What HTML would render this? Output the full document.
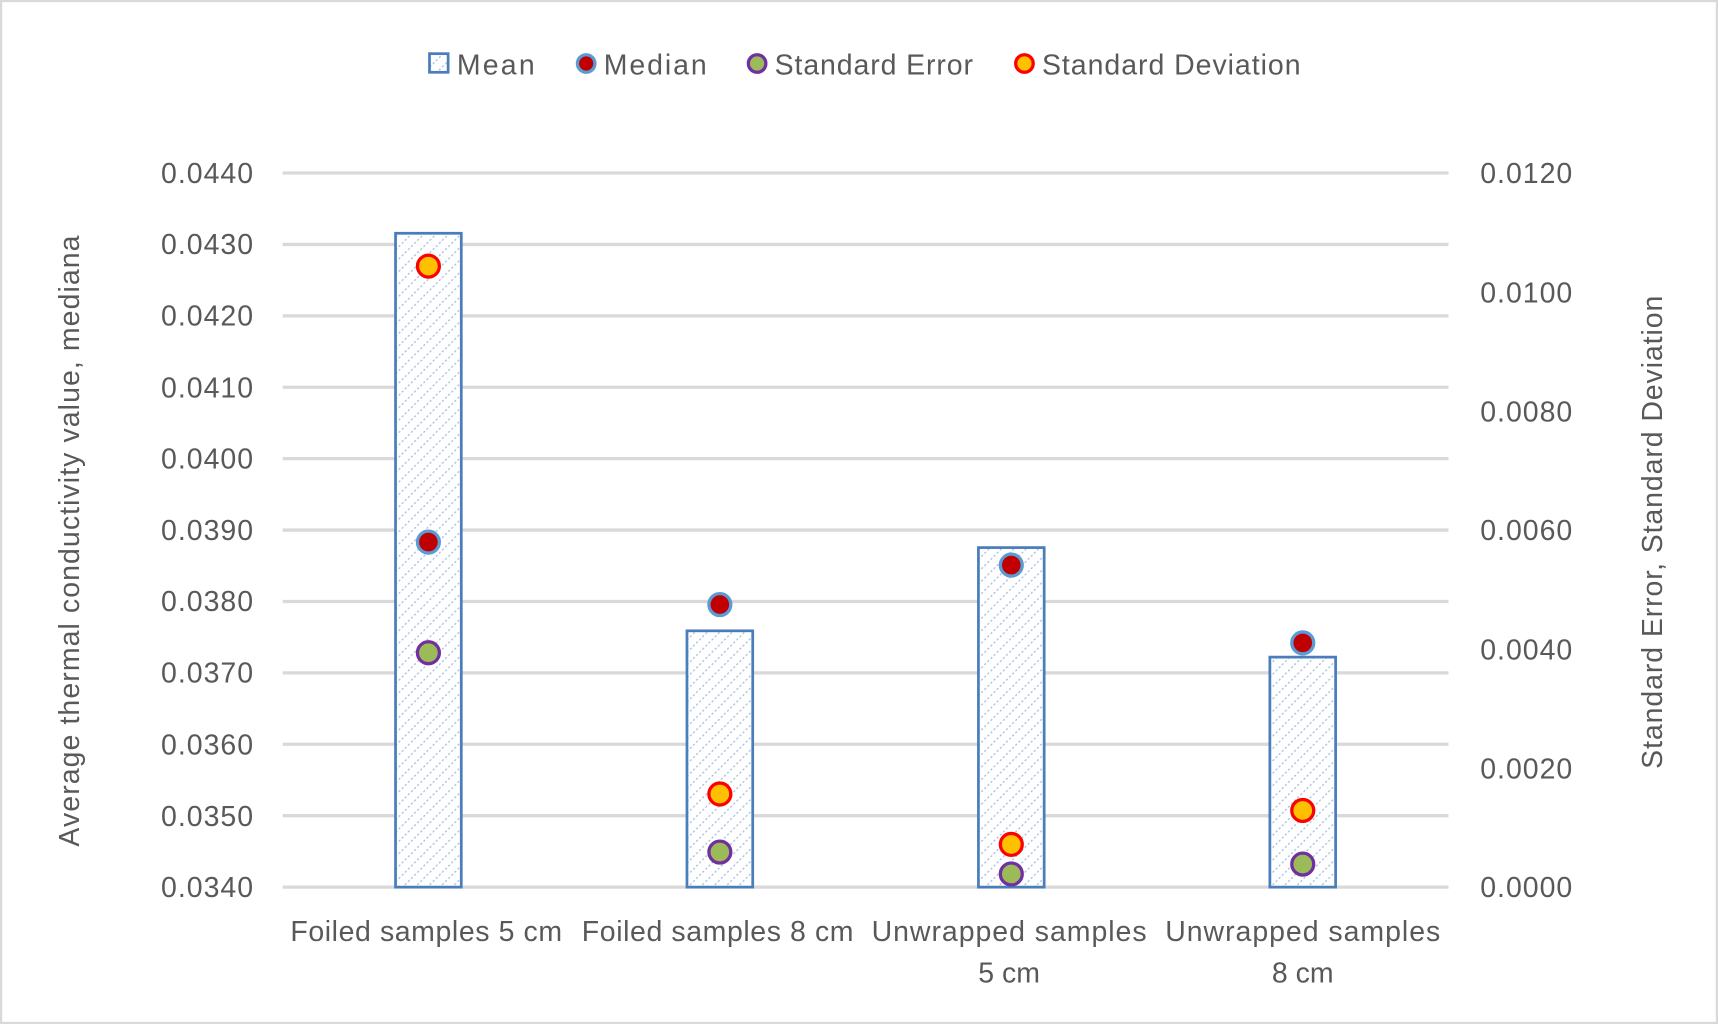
<!DOCTYPE html>
<html><head><style>html,body{margin:0;padding:0;background:#fff}svg{display:block}</style></head><body>
<svg width="1718" height="1024" viewBox="0 0 1568 935" preserveAspectRatio="none" font-family="'Liberation Sans',sans-serif" fill="#595959">
<defs><pattern id="h" width="8" height="8" patternUnits="userSpaceOnUse" patternTransform="rotate(45)"><rect width="8" height="8" fill="#fff"/><line x1="0" y1="0" x2="0" y2="8" stroke="#a9c3e6" stroke-width="2.5" stroke-dasharray="2 2"/></pattern></defs>
<rect x="1" y="1" width="1566" height="933" fill="#fff" stroke="#d9d9d9" stroke-width="2"/>
<g stroke="#d9d9d9" stroke-width="3">
<line x1="258" x2="1322" y1="158" y2="158"/><line x1="258" x2="1322" y1="223.2" y2="223.2"/><line x1="258" x2="1322" y1="288.4" y2="288.4"/><line x1="258" x2="1322" y1="353.6" y2="353.6"/><line x1="258" x2="1322" y1="418.8" y2="418.8"/><line x1="258" x2="1322" y1="484" y2="484"/><line x1="258" x2="1322" y1="549.2" y2="549.2"/><line x1="258" x2="1322" y1="614.4" y2="614.4"/><line x1="258" x2="1322" y1="679.6" y2="679.6"/><line x1="258" x2="1322" y1="744.8" y2="744.8"/><line x1="258" x2="1322" y1="810" y2="810"/>
</g>
<g fill="url(#h)" stroke="#4a7ebb" stroke-width="2.5">
<rect x="361" y="213" width="60" height="597"/><rect x="627" y="576" width="60" height="234"/><rect x="893" y="500" width="60" height="310"/><rect x="1159" y="600" width="60" height="210"/>
</g>
<g stroke-width="3">
<circle cx="391" cy="243" r="10" fill="#ffc000" stroke="#ff0000"/><circle cx="391" cy="495" r="10" fill="#c00000" stroke="#5b9bd5"/><circle cx="391" cy="596" r="10" fill="#9bbb59" stroke="#7030a0"/>
<circle cx="657" cy="552" r="10" fill="#c00000" stroke="#5b9bd5"/><circle cx="657" cy="725" r="10" fill="#ffc000" stroke="#ff0000"/><circle cx="657" cy="778" r="10" fill="#9bbb59" stroke="#7030a0"/>
<circle cx="923" cy="516" r="10" fill="#c00000" stroke="#5b9bd5"/><circle cx="923" cy="771" r="10" fill="#ffc000" stroke="#ff0000"/><circle cx="923" cy="798" r="10" fill="#9bbb59" stroke="#7030a0"/>
<circle cx="1189" cy="587" r="10" fill="#c00000" stroke="#5b9bd5"/><circle cx="1189" cy="740" r="10" fill="#ffc000" stroke="#ff0000"/><circle cx="1189" cy="789" r="10" fill="#9bbb59" stroke="#7030a0"/>
</g>
<g font-size="26" text-anchor="end">
<text x="231" y="167" textLength="84">0.0440</text><text x="231" y="232" textLength="84">0.0430</text><text x="231" y="297" textLength="84">0.0420</text><text x="231" y="363" textLength="84">0.0410</text><text x="231" y="428" textLength="84">0.0400</text><text x="231" y="493" textLength="84">0.0390</text><text x="231" y="558" textLength="84">0.0380</text><text x="231" y="623" textLength="84">0.0370</text><text x="231" y="689" textLength="84">0.0360</text><text x="231" y="754" textLength="84">0.0350</text><text x="231" y="819" textLength="84">0.0340</text>
</g>
<g font-size="26" text-anchor="start">
<text x="1351" y="167" textLength="84">0.0120</text><text x="1351" y="276" textLength="84">0.0100</text><text x="1351" y="385" textLength="84">0.0080</text><text x="1351" y="493" textLength="84">0.0060</text><text x="1351" y="602" textLength="84">0.0040</text><text x="1351" y="711" textLength="84">0.0020</text><text x="1351" y="819" textLength="84">0.0000</text>
</g>
<g font-size="26" text-anchor="middle">
<text x="389" y="859" textLength="248">Foiled samples 5 cm</text><text x="655" y="859" textLength="248">Foiled samples 8 cm</text><text x="921" y="859" textLength="251">Unwrapped samples</text><text x="921" y="897">5 cm</text><text x="1189" y="859" textLength="251">Unwrapped samples</text><text x="1189" y="897">8 cm</text>
</g>
<text font-size="26" text-anchor="middle" textLength="558" transform="translate(72,494) rotate(-90)">Average thermal conductivity value, mediana</text>
<text font-size="26" text-anchor="middle" textLength="432" transform="translate(1517,486) rotate(-90)">Standard Error, Standard Deviation</text>
<g font-size="26">
<rect x="392" y="49" width="17" height="17" fill="url(#h)" stroke="#4a7ebb" stroke-width="2.5"/><text x="417" y="68" textLength="71">Mean</text>
<circle cx="535" cy="58" r="8" fill="#c00000" stroke="#5b9bd5" stroke-width="3"/><text x="551" y="68" textLength="94">Median</text>
<circle cx="691" cy="58" r="8" fill="#9bbb59" stroke="#7030a0" stroke-width="3"/><text x="707" y="68" textLength="181">Standard Error</text>
<circle cx="935" cy="58" r="8" fill="#ffc000" stroke="#ff0000" stroke-width="3"/><text x="951" y="68" textLength="236">Standard Deviation</text>
</g>
</svg>
</body></html>
